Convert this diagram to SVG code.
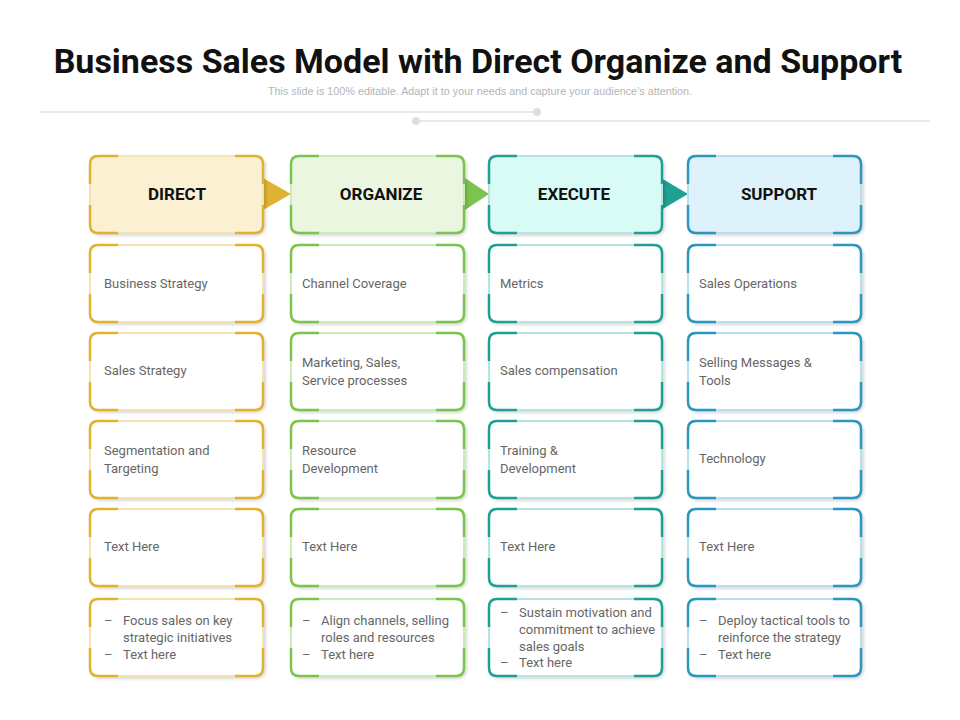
<svg xmlns="http://www.w3.org/2000/svg" xmlns:xlink="http://www.w3.org/1999/xlink" width="960" height="720" viewBox="0 0 960 720">
<style>
.t{font-family:Roboto,"Liberation Sans",sans-serif;font-size:13px;fill:#666}
.h{font-family:Roboto,"Liberation Sans",sans-serif;font-size:17px;font-weight:bold;fill:#111;text-anchor:middle}
.box{stroke-width:2}
.br{fill:none;stroke-width:2.5}
.g .box{stroke:#F3E3B0}.g .br{stroke:#E0B232}
.n .box{stroke:#CDEBB8}.n .br{stroke:#7CC450}
.e .box{stroke:#B8E4DF}.e .br{stroke:#1FA093}
.s .box{stroke:#B8DDEB}.s .br{stroke:#2B96C0}
</style>
<defs>
<path id="br" d="M0,28V8Q0,0 8,0H28M145,0H165Q173,0 173,8V28M173,49V69Q173,77 165,77H145M28,77H8Q0,77 0,69V49"/>
<filter id="sh" x="-10%" y="-10%" width="130%" height="130%"><feDropShadow dx="2" dy="2" stdDeviation="1.5" flood-color="#000" flood-opacity="0.15"/></filter>
</defs>
<rect width="960" height="720" fill="#fff"/>
<text x="478" y="73" text-anchor="middle" font-family="Roboto,'Liberation Sans',sans-serif" font-size="34" font-weight="bold" fill="#111">Business Sales Model with Direct Organize and Support</text>
<text x="480" y="95" text-anchor="middle" font-family="'Liberation Sans',sans-serif" font-size="10.8" fill="#b5b5b5">This slide is 100% editable. Adapt it to your needs and capture your audience’s attention.</text>
<g id="deco" stroke="#e2e2e2" stroke-width="1.5" fill="#ddd">
<line x1="40" y1="112" x2="537" y2="112"/><circle cx="537" cy="112" r="3.5"/>
<line x1="416" y1="121" x2="930" y2="121"/><circle cx="416" cy="121" r="3.5"/>
</g>
<g id="connectors">
<polygon points="263,178 291,194 263,210" fill="#E0B232"/>
<polygon points="465,178 489,194 465,210" fill="#7CC450"/>
<polygon points="661,178 688,194 661,210" fill="#1FA093"/>
</g>
<g id="col-direct" class="g" transform="translate(90,0)">
<g id="direct-head" transform="translate(0,156)"><rect class="box" width="173" height="77" rx="8" fill="#FBF0D2" filter="url(#sh)"/><use href="#br" class="br"/><text class="h" x="87" y="44">DIRECT</text></g>
<g id="d1" transform="translate(0,245)"><rect class="box" width="173" height="77" rx="8" fill="#fff" filter="url(#sh)"/><use href="#br" class="br"/><text class="t" x="14" y="43">Business Strategy</text></g>
<g id="d2" transform="translate(0,333)"><rect class="box" width="173" height="77" rx="8" fill="#fff" filter="url(#sh)"/><use href="#br" class="br"/><text class="t" x="14" y="42">Sales  Strategy</text></g>
<g id="d3" transform="translate(0,421)"><rect class="box" width="173" height="77" rx="8" fill="#fff" filter="url(#sh)"/><use href="#br" class="br"/><text class="t" x="14" y="34">Segmentation and<tspan x="14" dy="18">Targeting</tspan></text></g>
<g id="d4" transform="translate(0,509)"><rect class="box" width="173" height="77" rx="8" fill="#fff" filter="url(#sh)"/><use href="#br" class="br"/><text class="t" x="14" y="42">Text Here</text></g>
<g id="d5" transform="translate(0,599)"><rect class="box" width="173" height="77" rx="8" fill="#fff" filter="url(#sh)"/><use href="#br" class="br"/><text class="t" font-size="12"><tspan x="14" y="26">–</tspan><tspan x="33" y="26">Focus sales on key</tspan><tspan x="33" y="43">strategic initiatives</tspan><tspan x="14" y="60">–</tspan><tspan x="33" y="60">Text here</tspan></text></g>
</g>
<g id="col-organize" class="n" transform="translate(291,0)">
<g id="organize-head" transform="translate(0,156)"><rect class="box" width="173" height="77" rx="8" fill="#EAF6DF" filter="url(#sh)"/><use href="#br" class="br"/><text class="h" x="90" y="44">ORGANIZE</text></g>
<g id="o1" transform="translate(0,245)"><rect class="box" width="173" height="77" rx="8" fill="#fff" filter="url(#sh)"/><use href="#br" class="br"/><text class="t" x="11" y="43">Channel Coverage</text></g>
<g id="o2" transform="translate(0,333)"><rect class="box" width="173" height="77" rx="8" fill="#fff" filter="url(#sh)"/><use href="#br" class="br"/><text class="t" x="11" y="34">Marketing, Sales,<tspan x="11" dy="18">Service processes</tspan></text></g>
<g id="o3" transform="translate(0,421)"><rect class="box" width="173" height="77" rx="8" fill="#fff" filter="url(#sh)"/><use href="#br" class="br"/><text class="t" x="11" y="34">Resource<tspan x="11" dy="18">Development</tspan></text></g>
<g id="o4" transform="translate(0,509)"><rect class="box" width="173" height="77" rx="8" fill="#fff" filter="url(#sh)"/><use href="#br" class="br"/><text class="t" x="11" y="42">Text Here</text></g>
<g id="o5" transform="translate(0,599)"><rect class="box" width="173" height="77" rx="8" fill="#fff" filter="url(#sh)"/><use href="#br" class="br"/><text class="t" font-size="12"><tspan x="11" y="26">–</tspan><tspan x="30" y="26">Align channels, selling</tspan><tspan x="30" y="43">roles and resources</tspan><tspan x="11" y="60">–</tspan><tspan x="30" y="60">Text here</tspan></text></g>
</g>
<g id="col-execute" class="e" transform="translate(489,0)">
<g id="execute-head" transform="translate(0,156)"><rect class="box" width="173" height="77" rx="8" fill="#D9FBF6" filter="url(#sh)"/><use href="#br" class="br"/><text class="h" x="85" y="44">EXECUTE</text></g>
<g id="e1" transform="translate(0,245)"><rect class="box" width="173" height="77" rx="8" fill="#fff" filter="url(#sh)"/><use href="#br" class="br"/><text class="t" x="11" y="43">Metrics</text></g>
<g id="e2" transform="translate(0,333)"><rect class="box" width="173" height="77" rx="8" fill="#fff" filter="url(#sh)"/><use href="#br" class="br"/><text class="t" x="11" y="42">Sales compensation</text></g>
<g id="e3" transform="translate(0,421)"><rect class="box" width="173" height="77" rx="8" fill="#fff" filter="url(#sh)"/><use href="#br" class="br"/><text class="t" x="11" y="34">Training &amp;<tspan x="11" dy="18">Development</tspan></text></g>
<g id="e4" transform="translate(0,509)"><rect class="box" width="173" height="77" rx="8" fill="#fff" filter="url(#sh)"/><use href="#br" class="br"/><text class="t" x="11" y="42">Text Here</text></g>
<g id="e5" transform="translate(0,599)"><rect class="box" width="173" height="77" rx="8" fill="#fff" filter="url(#sh)"/><use href="#br" class="br"/><text class="t" font-size="12"><tspan x="11" y="18">–</tspan><tspan x="30" y="18">Sustain motivation and</tspan><tspan x="30" y="35">commitment to achieve</tspan><tspan x="30" y="52">sales goals</tspan><tspan x="11" y="68">–</tspan><tspan x="30" y="68">Text here</tspan></text></g>
</g>
<g id="col-support" class="s" transform="translate(688,0)">
<g id="support-head" transform="translate(0,156)"><rect class="box" width="173" height="77" rx="8" fill="#DDF2FB" filter="url(#sh)"/><use href="#br" class="br"/><text class="h" x="91" y="44">SUPPORT</text></g>
<g id="s1" transform="translate(0,245)"><rect class="box" width="173" height="77" rx="8" fill="#fff" filter="url(#sh)"/><use href="#br" class="br"/><text class="t" x="11" y="43">Sales Operations</text></g>
<g id="s2" transform="translate(0,333)"><rect class="box" width="173" height="77" rx="8" fill="#fff" filter="url(#sh)"/><use href="#br" class="br"/><text class="t" x="11" y="34">Selling Messages &amp;<tspan x="11" dy="18">Tools</tspan></text></g>
<g id="s3" transform="translate(0,421)"><rect class="box" width="173" height="77" rx="8" fill="#fff" filter="url(#sh)"/><use href="#br" class="br"/><text class="t" x="11" y="42">Technology</text></g>
<g id="s4" transform="translate(0,509)"><rect class="box" width="173" height="77" rx="8" fill="#fff" filter="url(#sh)"/><use href="#br" class="br"/><text class="t" x="11" y="42">Text Here</text></g>
<g id="s5" transform="translate(0,599)"><rect class="box" width="173" height="77" rx="8" fill="#fff" filter="url(#sh)"/><use href="#br" class="br"/><text class="t" font-size="12"><tspan x="11" y="26">–</tspan><tspan x="30" y="26">Deploy tactical  tools to</tspan><tspan x="30" y="43">reinforce the strategy</tspan><tspan x="11" y="60">–</tspan><tspan x="30" y="60">Text here</tspan></text></g>
</g>
</svg>
